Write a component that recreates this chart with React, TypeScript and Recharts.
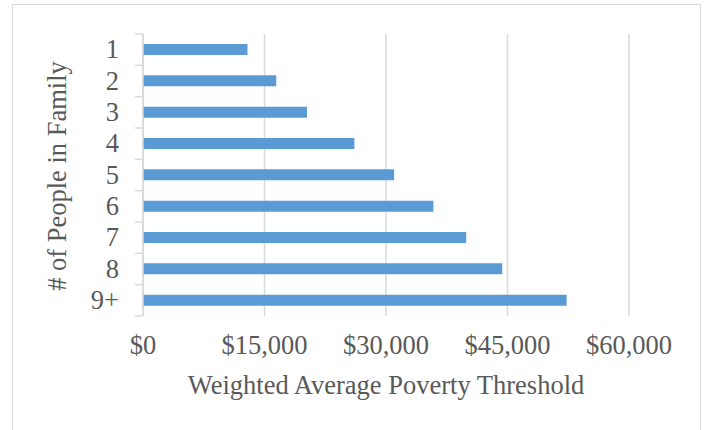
import { BarChart, Bar, XAxis, YAxis, CartesianGrid } from "recharts";

const sizes = ["1", "2", "3", "4", "5", "6", "7", "8", "9+"];
const thresholds = [12900, 16450, 20250, 26100, 31000, 35850, 39900, 44350, 52300];
const xTicks = [0, 15000, 30000, 45000, 60000];

const data = sizes.map((size, i) => ({ size, value: thresholds[i] }));

const FONT = "'Liberation Serif', 'Times New Roman', serif";
const TEXT = "#595959";
const LINE = "#d9d9d9";
const TOP = 34;
const BOTTOM = 114;
const PLOT_H = 430 - TOP - BOTTOM;
const AXIS_X = 143;

const money = (v: number) => "$" + v.toLocaleString("en-US");

function YTick(props: any) {
  const { x, y, payload, index } = props;
  const half = PLOT_H / sizes.length / 2;
  return (
    <g>
      <line x1={AXIS_X - 8} x2={AXIS_X} y1={y - half} y2={y - half} stroke={LINE} strokeWidth={1.5} />
      {index === sizes.length - 1 && (
        <line x1={AXIS_X - 8} x2={AXIS_X} y1={y + half} y2={y + half} stroke={LINE} strokeWidth={1.5} />
      )}
      <text x={x} y={y} dy="0.33em" textAnchor="end" fill={TEXT} fontSize={26.5} fontFamily={FONT}>
        {payload.value}
      </text>
    </g>
  );
}

function XTick(props: any) {
  const { x, y, payload } = props;
  return (
    <text x={x} y={y} dy="0.71em" textAnchor="middle" fill={TEXT} fontSize={26.5} fontFamily={FONT}>
      {money(payload.value)}
    </text>
  );
}

export default function App() {
  return (
    <div style={{ position: "absolute", left: 0, top: 0, width: 707, height: 430, overflow: "hidden", background: "#fff" }}>
      <div
        style={{
          position: "absolute",
          left: 12,
          top: 4,
          width: 689,
          height: 440,
          border: `1.5px solid ${LINE}`,
          boxSizing: "border-box",
        }}
      />
      <div style={{ position: "absolute", left: 0, top: 0 }}>
        <BarChart
          width={707}
          height={430}
          layout="vertical"
          data={data}
          margin={{ top: TOP, right: 78, bottom: 0, left: 0 }}
        >
          <CartesianGrid horizontal={false} stroke={LINE} strokeWidth={1.5} />
          <XAxis
            type="number"
            domain={[0, 60000]}
            ticks={xTicks}
            axisLine={false}
            tickLine={false}
            tickSize={0}
            tickMargin={19.5}
            height={BOTTOM}
            tick={<XTick />}
            label={{
              content: (p: any) => {
                const vb = p.viewBox;
                return (
                  <text x={vb.x + vb.width / 2} y={394} textAnchor="middle" fill={TEXT} fontSize={26.5} fontFamily={FONT}>
                    Weighted Average Poverty Threshold
                  </text>
                );
              },
            }}
          />
          <YAxis
            type="category"
            dataKey="size"
            width={AXIS_X}
            axisLine={{ stroke: LINE, strokeWidth: 1.5 }}
            tickLine={false}
            tickSize={0}
            tickMargin={24}
            tick={<YTick />}
            label={{
              content: (p: any) => {
                const vb = p.viewBox;
                const cy = vb.y + vb.height / 2 + 1;
                return (
                  <text x={66} y={cy} transform={`rotate(-90 66 ${cy})`} textAnchor="middle" fill={TEXT} fontSize={26.5} fontFamily={FONT}>
                    # of People in Family
                  </text>
                );
              },
            }}
          />
          <Bar dataKey="value" fill="#5b9bd5" barSize={11} isAnimationActive={false} />
        </BarChart>
      </div>
    </div>
  );
}
